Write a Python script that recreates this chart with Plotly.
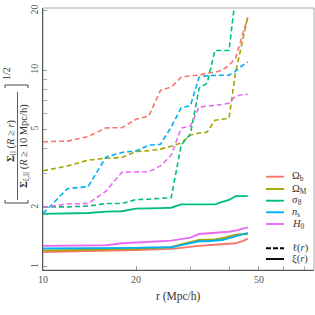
import plotly.graph_objects as go

# ---------------- data ----------------
r = [10, 12, 14, 16, 18, 20, 22, 24, 26, 28, 30, 32, 34, 36, 38, 40, 42, 44, 46]

series_names = ["Ω<sub>b</sub>", "Ω<sub>M</sub>", "σ<sub>8</sub>", "<i>n</i><sub>s</sub>", "<i>H</i><sub>0</sub>"]
colors = ["#F8766D", "#A3A500", "#00BF7D", "#00B0F6", "#E76BF3"]

# dashed: l(r)
ell_Ob = [4.33, 4.36, 4.60, 5.09, 5.10, 5.63, 5.84, 7.90, 8.20, 9.20, 9.38, 9.43, 9.66, 9.75, 10.0, 10.6, 11.5, 14.5, 18.6]
ell_OM = [3.08, 3.26, 3.49, 3.57, 3.60, 3.86, 3.90, 3.97, 4.11, 4.26, 4.68, 4.79, 4.85, 5.57, 5.63, 5.71, 9.77, 13.7, 18.6]
ell_s8 = [2.02, 2.02, 2.04, 2.10, 2.10, 2.20, 2.21, 2.23, 2.25, 4.16, 4.75, 8.10, 8.60, 12.6, 12.6, 12.6, 24.0, 30.0, 35.0]
ell_ns = [1.87, 2.50, 2.56, 3.62, 3.82, 3.89, 4.16, 4.20, 5.14, 6.45, 6.60, 9.21, 9.38, 9.43, 9.43, 9.43, 9.89, 10.5, 11.0]
ell_H0 = [2.01, 2.09, 2.10, 2.43, 3.03, 3.03, 3.05, 3.26, 3.70, 5.08, 5.20, 6.49, 6.56, 6.60, 6.70, 6.80, 7.38, 7.50, 7.55]

# solid: xi(r)
xi_Ob = [1.19, 1.195, 1.20, 1.21, 1.215, 1.22, 1.225, 1.23, 1.235, 1.25, 1.27, 1.28, 1.29, 1.295, 1.30, 1.31, 1.32, 1.35, 1.39]
xi_OM = [1.21, 1.215, 1.22, 1.225, 1.23, 1.235, 1.245, 1.25, 1.26, 1.30, 1.33, 1.37, 1.375, 1.38, 1.40, 1.43, 1.46, 1.465, 1.47]
xi_s8 = [1.86, 1.865, 1.88, 1.91, 1.92, 1.98, 1.98, 1.99, 2.00, 2.08, 2.08, 2.08, 2.08, 2.08, 2.14, 2.19, 2.29, 2.29, 2.29]
xi_ns = [1.24, 1.24, 1.245, 1.25, 1.25, 1.25, 1.255, 1.255, 1.26, 1.29, 1.32, 1.35, 1.35, 1.36, 1.37, 1.40, 1.43, 1.46, 1.49]
xi_H0 = [1.28, 1.28, 1.28, 1.29, 1.32, 1.335, 1.34, 1.35, 1.36, 1.38, 1.41, 1.47, 1.48, 1.49, 1.50, 1.51, 1.53, 1.56, 1.59]

ell_all = [ell_Ob, ell_OM, ell_s8, ell_ns, ell_H0]
xi_all = [xi_Ob, xi_OM, xi_s8, xi_ns, xi_H0]

x_major = [10, 20, 50]
x_major_text = ["10", "20", "50"]
x_minor = [30, 40, 60, 70]
y_major = [1, 2, 5, 10, 20]
y_major_text = ["1", "2", "5", "10", "20"]
y_minor = [3, 4, 6, 7, 8, 9]

# ---------------- layout helpers ----------------
W, H = 315, 315
L, R_, T, B = 43, 1, 8, 45
PW, PH = W - L - R_, H - T - B

def px(x):
    return (x - L) / PW

def py(y):
    return (H - B - y) / PH

FONT = "Liberation Serif"

fig = go.Figure()

for vals, c in zip(ell_all, colors):
    fig.add_trace(go.Scatter(x=r, y=vals, mode="lines",
                             line=dict(color=c, width=1.6, dash="5px,3px"),
                             showlegend=False))
for vals, c in zip(xi_all, colors):
    fig.add_trace(go.Scatter(x=r, y=vals, mode="lines",
                             line=dict(color=c, width=1.9),
                             showlegend=False))

axis_common = dict(ticks="inside", ticklen=4, tickcolor="#999999", tickwidth=1,
                   showgrid=False, zeroline=False, showline=True,
                   linecolor="#555555", linewidth=1.2,
                   tickfont=dict(family=FONT, size=10, color="#555555"))
minor_common = dict(ticks="inside", ticklen=4, tickcolor="#aaaaaa", tickwidth=1,
                    showgrid=False, tickmode="array")

fig.update_xaxes(type="log", range=[1.0, 1.877], tickmode="array",
                 tickvals=x_major, ticktext=x_major_text,
                 minor=dict(tickvals=x_minor, **minor_common), **axis_common)
fig.update_yaxes(type="log", range=[-0.0155, 1.316], tickmode="array",
                 tickvals=y_major, ticktext=y_major_text, tickangle=-90,
                 minor=dict(tickvals=y_minor, **minor_common), **axis_common)

shapes = []
# light frame (top/right)
shapes.append(dict(type="rect", xref="paper", yref="paper", x0=0, x1=1, y0=0, y1=1,
                   line=dict(color="#aaaaaa", width=1), layer="below"))

annotations = []
# x title
annotations.append(dict(text="r (Mpc/h)", xref="paper", yref="paper",
                        x=px(178.5), y=py(296), showarrow=False,
                        xanchor="center", yanchor="middle",
                        font=dict(family=FONT, size=11.5, color="#333333")))

# y title: fraction built from pieces
annotations.append(dict(text="<b>Σ</b><sub>ll</sub> (<i>R</i> ≥ <i>r</i>)", xref="paper", yref="paper",
                        x=px(11), y=py(141), showarrow=False, textangle=-90,
                        xanchor="center", yanchor="middle",
                        font=dict(family=FONT, size=10.5, color="#333333")))
annotations.append(dict(text="<b>Σ</b><sub>ξ,ll</sub> (<i>R</i> ≥ 10 Mpc/h)", xref="paper", yref="paper",
                        x=px(24), y=py(146), showarrow=False, textangle=-90,
                        xanchor="center", yanchor="middle",
                        font=dict(family=FONT, size=10.5, color="#333333")))
annotations.append(dict(text="1/2", xref="paper", yref="paper",
                        x=px(6), y=py(74), showarrow=False, textangle=-90,
                        xanchor="center", yanchor="middle",
                        font=dict(family=FONT, size=10, color="#333333")))
# fraction bar
shapes.append(dict(type="line", xref="paper", yref="paper",
                   x0=px(17.5), x1=px(17.5), y0=py(92), y1=py(200),
                   line=dict(color="#333333", width=0.8)))
# brackets (rotated [ ])
shapes.append(dict(type="path", xref="paper", yref="paper",
                   path=f"M {px(5)} {py(200)} L {px(5)} {py(203)} L {px(28)} {py(203)} L {px(28)} {py(200)}",
                   line=dict(color="#333333", width=0.9)))
shapes.append(dict(type="path", xref="paper", yref="paper",
                   path=f"M {px(5)} {py(88)} L {px(5)} {py(85)} L {px(28)} {py(85)} L {px(28)} {py(88)}",
                   line=dict(color="#333333", width=0.9)))

# manual legend
leg_y = [176.7, 189, 200.7, 212.3, 224]
for name, c, yy in zip(series_names, colors, leg_y):
    shapes.append(dict(type="line", xref="paper", yref="paper",
                       x0=px(266), x1=px(284), y0=py(yy), y1=py(yy),
                       line=dict(color=c, width=1.9)))
    annotations.append(dict(text=name, xref="paper", yref="paper",
                            x=px(290), y=py(yy), showarrow=False,
                            xanchor="left", yanchor="middle",
                            font=dict(family=FONT, size=10.5, color="#333333")))
style_items = [("ℓ(<i>r</i>)", "5px,2px", 248.3), ("ξ(<i>r</i>)", "solid", 259)]
for name, d, yy in style_items:
    shapes.append(dict(type="line", xref="paper", yref="paper",
                       x0=px(266), x1=px(284), y0=py(yy), y1=py(yy),
                       line=dict(color="black", width=1.9, dash=d)))
    annotations.append(dict(text=name, xref="paper", yref="paper",
                            x=px(290), y=py(yy), showarrow=False,
                            xanchor="left", yanchor="middle",
                            font=dict(family=FONT, size=10.5, color="#333333")))

fig.update_layout(width=W, height=H, margin=dict(l=L, r=R_, t=T, b=B),
                  paper_bgcolor="white", plot_bgcolor="white",
                  showlegend=False, shapes=shapes, annotations=annotations,
                  font=dict(family=FONT))

fig.write_html("out.html", config={"displayModeBar": False},
               post_script="document.body.style.margin='0px';")
